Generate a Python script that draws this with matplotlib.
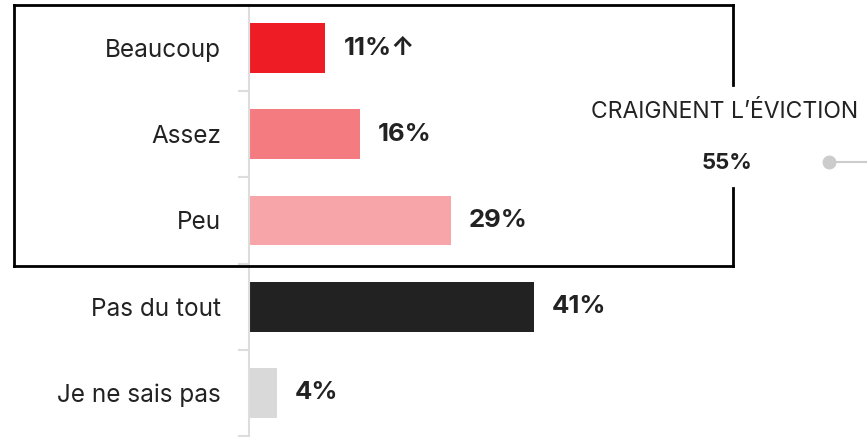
import matplotlib.pyplot as plt
from matplotlib.lines import Line2D

plt.rcParams['font.family'] = ['Inter', 'DejaVu Sans']

# Données
categories = ['Beaucoup', 'Assez', 'Peu', 'Pas du tout', 'Je ne sais pas']
values = [11, 16, 29, 41, 4]
value_labels = ['11%\u2191', '16%', '29%', '41%', '4%']
colors = ['#ee1c25', '#f47b80', '#f7a5a8', '#222222', '#d9d9d9']
group_label = 'CRAIGNENT L\u2019\u00c9VICTION'
group_value = '55%'

W, H = 867, 437
fig = plt.figure(figsize=(W / 100, H / 100), dpi=100)

# axe : de x=249 px jusqu'au bord droit, y de 5 à 436 px
px_per_pct = 6.95
ax = fig.add_axes([249 / W, 1 - 436 / H, (W - 249) / W, 431 / H])
ax.set_xlim(0, (W - 249) / px_per_pct)
ax.set_ylim(len(categories) - 0.5, -0.5)

y = range(len(categories))
ax.barh(y, values, height=0.58, color=colors)

for i, (v, lab) in enumerate(zip(values, value_labels)):
    ax.text(v + 2.6, i, lab, va='center', ha='left', fontsize=18.5,
            fontweight='bold', color='#222222')

ax.set_yticks(y)
ax.set_yticklabels(categories, fontsize=17.5, color='#222222')
ax.set_yticks([i - 0.5 for i in range(len(categories) + 1)], minor=True)
ax.tick_params(axis='y', which='major', length=0, pad=20)
ax.tick_params(axis='y', which='minor', length=8, width=1.5, color='#dddddd')
ax.set_xticks([])
for s in ['top', 'right', 'bottom']:
    ax.spines[s].set_visible(False)
ax.spines['left'].set_color('#dddddd')
ax.spines['left'].set_linewidth(1.5)

# cadre regroupant les trois premières réponses
def fx(px):
    return px / W

def fy(py):
    return 1 - py / H

box = [
    ([14, 733], [5, 5]),
    ([14, 14], [5, 266]),
    ([14, 733], [266, 266]),
    ([733, 733], [5, 85]),
    ([733, 733], [188, 266]),
]
for xs, ys in box:
    fig.add_artist(Line2D([fx(v) for v in xs], [fy(v) for v in ys],
                          color='black', lw=2, solid_capstyle='projecting'))

fig.text(fx(725), fy(112), group_label, ha='center', va='center',
         fontsize=16.5, color='#222222')
fig.text(fx(727), fy(163), group_value, ha='center', va='center',
         fontsize=16, fontweight='bold', color='#222222')

fig.add_artist(Line2D([fx(829), fx(W)], [fy(162), fy(162)],
                      color='#cccccc', lw=1.5))
fig.add_artist(Line2D([fx(829)], [fy(162)], marker='o', markersize=9,
                      color='#cccccc', lw=0))

fig.savefig('out.png', dpi=100)
